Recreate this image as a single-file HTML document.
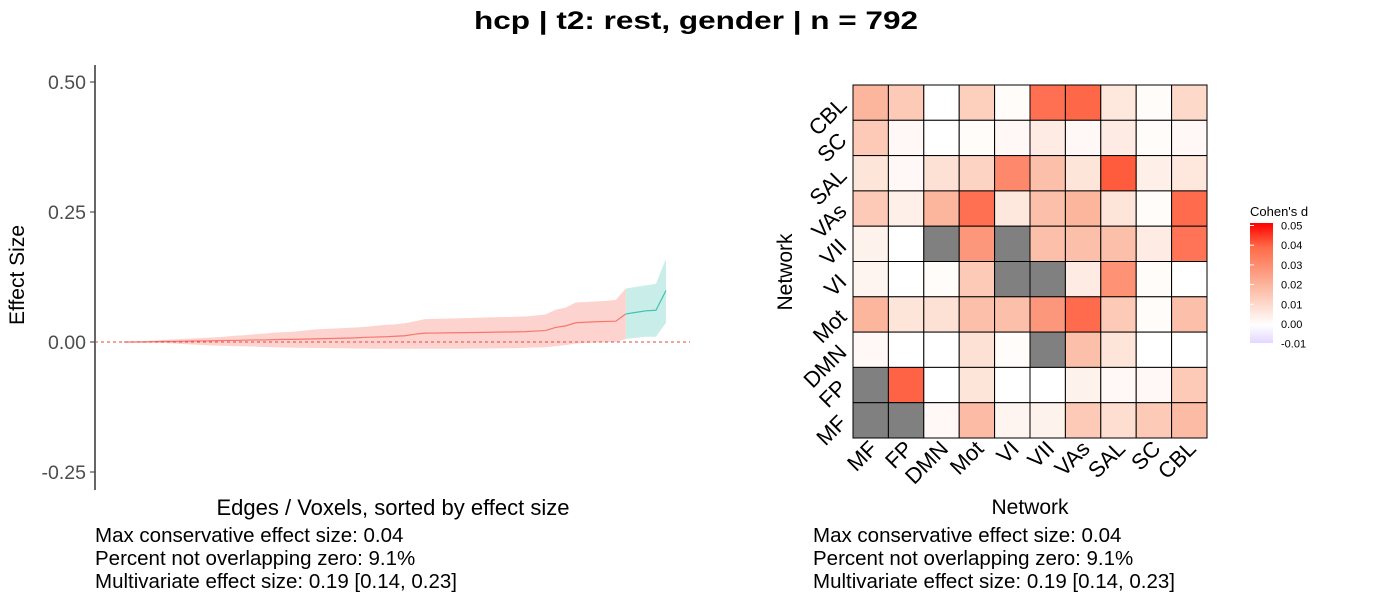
<!DOCTYPE html>
<html><head><meta charset="utf-8"><style>
body{margin:0;background:#fff;font-family:"Liberation Sans",sans-serif;}
svg text{font-family:"Liberation Sans",sans-serif;}
</style></head><body>
<svg id="s" width="1400" height="600" viewBox="0 0 1400 600" xmlns="http://www.w3.org/2000/svg">
<defs><linearGradient id="lg" x1="0" y1="1" x2="0" y2="0">
<stop offset="0" stop-color="#e3d6ff"/><stop offset="0.15" stop-color="#ffffff"/><stop offset="0.47" stop-color="#fcb8a0"/><stop offset="0.8" stop-color="#ff6a48"/><stop offset="1" stop-color="#ff0000"/></linearGradient></defs>
<text x="474" y="29" textLength="444" lengthAdjust="spacingAndGlyphs" font-size="25" font-weight="bold">hcp | t2: rest, gender | n = 792</text>
<g id="left"></g>
<g id="right"></g>
<g font-size="20.5">
<text x="95" y="542">Max conservative effect size: 0.04</text>
<text x="95" y="565">Percent not overlapping zero: 9.1%</text>
<text x="95" y="588">Multivariate effect size: 0.19 [0.14, 0.23]</text></g>
<g font-size="20.5">
<text x="813" y="542">Max conservative effect size: 0.04</text>
<text x="813" y="565">Percent not overlapping zero: 9.1%</text>
<text x="813" y="588">Multivariate effect size: 0.19 [0.14, 0.23]</text></g>
<g>
<text x="1250" y="216" font-size="13">Cohen's d</text>
<rect x="1250" y="223" width="23" height="120" fill="url(#lg)"/>
</g>
</svg>
<script>
const meanVals=[0,0,0,.0005,.001,.001,.0015,.002,.002,.0025,.003,.003,.0035,.004,.004,.0045,.005,.005,.0055,.006,.0065,.007,.0075,.008,.009,.0095,.010,.011,.012,.015,.017,.0172,.0175,.0178,.018,.0182,.0185,.019,.0192,.0195,.020,.021,.022,.028,.031,.037,.038,.039,.0395,.040,.054,.057,.060,.061,.099];
const upperVals=[0,.001,.002,.003,.004,.005,.006,.007,.008,.009,.010,.012,.013,.015,.016,.018,.019,.020,.022,.024,.025,.026,.027,.028,.029,.031,.033,.034,.036,.040,.044,.0445,.045,.0455,.046,.0465,.047,.0475,.048,.0485,.049,.051,.053,.062,.066,.076,.077,.078,.079,.081,.103,.106,.109,.112,.160];
const lowerVals=[0,-.0005,-.001,-.0015,-.002,-.003,-.004,-.005,-.006,-.007,-.0075,-.008,-.0085,-.009,-.0095,-.010,-.0105,-.011,-.011,-.0115,-.0115,-.012,-.012,-.0125,-.0125,-.013,-.013,-.013,-.013,-.013,-.013,-.013,-.013,-.013,-.0128,-.0126,-.0124,-.0122,-.012,-.012,-.011,-.0105,-.010,-.008,-.006,-.003,-.002,-.001,-.0005,0,.006,.008,.010,.010,.037];
const splitIndex=50;
const yTicks=[0.5,0.25,0,-0.25];
const yTickLabels=["0.50","0.25","0.00","-0.25"];
const networks=["MF","FP","DMN","Mot","VI","VII","VAs","SAL","SC","CBL"];
// rows listed top (CBL) to bottom (MF); null = grey
const cellVals=[
[.018,.014,0,.013,.001,.032,.034,.007,.001,.011],
[.014,.002,0,.001,.002,.006,.002,.006,.001,.002],
[.008,.002,.009,.012,.027,.016,.008,.037,.005,.007],
[.014,.005,.018,.032,.007,.016,.018,.008,.001,.033],
[.004,0,null,.024,null,.016,.016,.016,.006,.031],
[.003,0,.001,.014,null,null,.006,.025,.001,0],
[.018,.008,.009,.016,.016,.024,.033,.014,.001,.016],
[.002,0,0,.009,.001,null,.016,.008,0,0],
[null,.035,0,.008,0,0,.004,.002,.002,.014],
[null,null,.002,.017,.003,.004,.014,.010,.014,.017]];
const legendTicks=[0.05,0.04,0.03,0.02,0.01,0,-0.01];
const legendLabels=["0.05","0.04","0.03","0.02","0.01","0.00","-0.01"];

const NS="http://www.w3.org/2000/svg";
function mk(p,t,a){const e=document.createElementNS(NS,t);for(const k in a)e.setAttribute(k,a[k]);p.appendChild(e);return e;}
const L=document.getElementById('left'),R=document.getElementById('right'),S=document.getElementById('s');
const yS=v=>342-v*520, xS=i=>124+i*(666-124)/(meanVals.length-1);
let e=mk(L,'line',{x1:95,y1:65,x2:95,y2:490,stroke:'#000','stroke-width':1.2});

yTicks.forEach((v,k)=>{let t=mk(L,'line',{x1:90,x2:95,y1:yS(v),y2:yS(v),stroke:'#333'});

let tx=mk(L,'text',{x:86,y:yS(v)+7,'text-anchor':'end','font-size':19.5,fill:'#4d4d4d'});tx.textContent=yTickLabels[k];
});
let yl=mk(L,'text',{transform:'translate(24,275) rotate(-90)','text-anchor':'middle','font-size':21});yl.textContent='Effect Size';

let xl=mk(L,'text',{x:393,y:515,'text-anchor':'middle','font-size':22});xl.textContent='Edges / Voxels, sorted by effect size';

function band(a,b,fill,line,nm){let up=[],lo=[],ln=[];for(let i=a;i<=b;i++){up.push(xS(i)+','+yS(upperVals[i]));lo.unshift(xS(i)+','+yS(lowerVals[i]));ln.push(xS(i)+','+yS(meanVals[i]));}
let p=mk(L,'polygon',{points:up.concat(lo).join(' '),fill:fill});

let l=mk(L,'polyline',{points:ln.join(' '),fill:'none',stroke:line,'stroke-width':1.2});
}
band(0,splitIndex,'#fdd3cf','#f8766d','overlapping');
band(splitIndex,meanVals.length-1,'#c9eee9','#3fc2b0','nonoverlapping');
let z=mk(L,'line',{x1:95,x2:690,y1:yS(0),y2:yS(0),stroke:'#e8443a','stroke-dasharray':'3,3','stroke-width':1});


// heatmap
const hx=853,hy=85,cw=35.4,ch=35.3;
const stops=[[0,[255,255,255]],[0.01,[253,222,208]],[0.02,[252,172,145]],[0.03,[255,120,90]],[0.04,[255,78,48]],[0.05,[255,0,0]]];
function col(v){if(v==null)return '#808080';if(v<=0)return '#fff';for(let k=1;k<stops.length;k++){if(v<=stops[k][0]){const[a,ca]=stops[k-1],[b,cb]=stops[k];const f=(v-a)/(b-a);return 'rgb('+ca.map((c,j)=>Math.round(c+(cb[j]-c)*f)).join(',')+')';}}return 'red';}
cellVals.forEach((row,r)=>row.forEach((v,c)=>{let rc=mk(R,'rect',{x:hx+c*cw,y:hy+r*ch,width:cw,height:ch,fill:col(v),stroke:'#000','stroke-width':1});
}));
const rowsTop=networks.slice().reverse();
rowsTop.forEach((n,r)=>{const cy=hy+r*ch+ch/2;let t=mk(R,'text',{transform:`translate(848,${cy+4}) rotate(-45)`,'text-anchor':'end','font-size':22});t.textContent=n;
});
networks.forEach((n,c)=>{const cx=hx+c*cw+cw/2;let t=mk(R,'text',{transform:`translate(${cx+8},${hy+10*ch+12}) rotate(-45)`,'text-anchor':'end','font-size':22});t.textContent=n;
});
let hxl=mk(R,'text',{x:1030,y:514,'text-anchor':'middle','font-size':21});hxl.textContent='Network';

let hyl=mk(R,'text',{transform:'translate(792,272) rotate(-90)','text-anchor':'middle','font-size':21});hyl.textContent='Network';

legendTicks.forEach((v,k)=>{const y=324-v*1970;let l=mk(S,'line',{x1:1250,x2:1254,y1:y,y2:y,stroke:'#fff'});

let t=mk(S,'text',{x:1281,y:y+4,'font-size':11});t.textContent=legendLabels[k];
});
</script>
</body></html>
